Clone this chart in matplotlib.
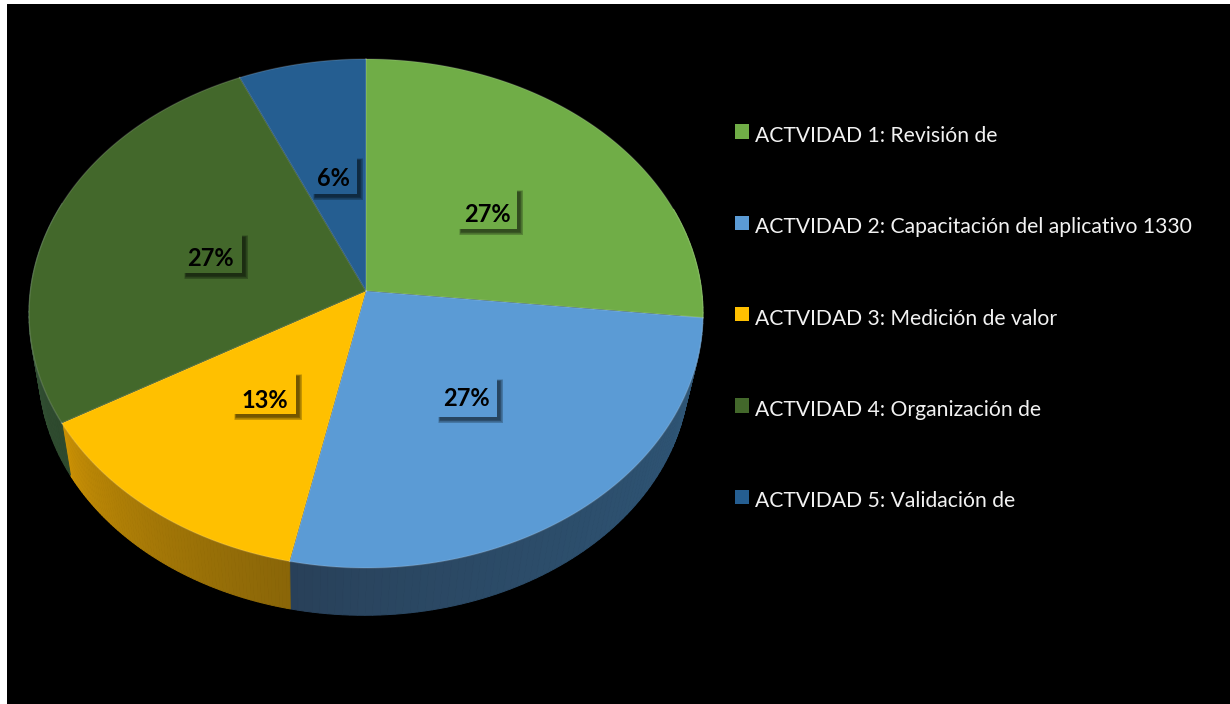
# -*- coding: utf-8 -*-

import matplotlib
matplotlib.use("Agg")
import matplotlib.pyplot as plt
from matplotlib.colors import to_rgb
from matplotlib.patches import Patch, Rectangle
import numpy as np

# --- data ---

activities = [
    "ACTVIDAD 1: Revisión de",
    "ACTVIDAD 2: Capacitación del aplicativo 1330",
    "ACTVIDAD 3: Medición de valor",
    "ACTVIDAD 4: Organización de",
    "ACTVIDAD 5: Validación de",
]
counts = [4, 4, 2, 4, 1]
pct_labels = ["27%", "27%", "13%", "27%", "6%"]
colors = ["#70AD47", "#5B9BD5", "#FFC000", "#43682B", "#255E91"]
side_left = ["#70AD47", "#283F57", "#CF9405", "#3F6048", "#255E91"]
side_right = ["#70AD47", "#2F5778", "#8A6608", "#2E4A2E", "#255E91"]
text_pos = [(487, 214), (466, 399), (265, 400), (210, 258), (333, 178)]
box_spans = [(458, 517, 189, 229), (437, 497, 378, 417), (233, 296, 373, 414),
             (183, 242, 234, 273), (312, 357, 157, 194)]

plt.rcParams["font.family"] = ["Lato", "DejaVu Sans"]

# --- pie in perspective ---

APEX = (366, 291)
B, A, K = 335.7, 252.5, 0.0884


def rim(theta):
    # theta runs clockwise from 12 o'clock, in radians
    x, y = np.sin(theta), np.cos(theta)
    w = 1 + K * y
    return APEX[0] + B * x / w, APEX[1] - A * y / w


def lower_rim(theta):
    x, y = rim(theta)
    return APEX[0] - 2 + 0.965 * (x - APEX[0]), APEX[1] + 0.965 * (y - APEX[1]) + 57


fig = plt.figure(figsize=(12.3, 7.04), dpi=100, facecolor="white")
ax = fig.add_axes([7 / 1230, 0, 1223 / 1230, 700 / 704])
ax.set_xlim(7, 1230)
ax.set_ylim(704, 4)
ax.axis("off")
ax.add_patch(Rectangle((7, 4), 1223, 700, color="black", zorder=0))

edges = np.cumsum([0] + counts) / sum(counts) * 2 * np.pi

# side wall, drawn in small strips so that it can darken along the rim
for i in range(len(counts)):
    t0, t1 = edges[i], edges[i + 1]
    ts = np.linspace(t0, t1, 80)
    c_left = np.array(to_rgb(side_left[i]))
    c_right = np.array(to_rgb(side_right[i]))
    for j in range(len(ts) - 1):
        a, b = ts[j], ts[j + 1]
        if np.cos(a) > 0.35:
            continue
        xt, yt = rim(np.array([a, b]))
        xb, yb = lower_rim(np.array([b, a]))
        # theta goes right to left along the front of the pie
        f = ((t1 - a) / (t1 - t0)) ** 0.7
        c = c_left * (1 - f) + c_right * f
        ax.fill(np.r_[xt, xb], np.r_[yt, yb], facecolor=c, edgecolor=c, lw=0.7, zorder=1)

# top face
for i in range(len(counts)):
    ts = np.linspace(edges[i], edges[i + 1], 150)
    xs, ys = rim(ts)
    ax.fill(np.r_[APEX[0], xs], np.r_[APEX[1], ys], color=colors[i], lw=0, zorder=2)
    ax.plot([APEX[0], xs[0]], [APEX[1], ys[0]], color="white", alpha=0.15, lw=1.1, zorder=2.5)
    ax.plot(xs, ys, color="white", alpha=0.14, lw=1.0, zorder=2.5)

# value labels on small boxes with a soft shadow to the lower right
for i in range(len(counts)):
    x0, x1, y0, y1 = box_spans[i]
    for grow in [5, 4, 3, 2, 1, 0]:
        ax.add_patch(Rectangle((x0 + 3 - grow / 3, y0 + 3 - grow / 3),
                               x1 - x0 + grow, y1 - y0 + grow,
                               facecolor="black", alpha=0.12, lw=0, zorder=3))
    ax.add_patch(Rectangle((x0, y0), x1 - x0, y1 - y0, facecolor=colors[i], lw=0, zorder=3.1))
    ax.text(text_pos[i][0], text_pos[i][1], pct_labels[i], ha="center", va="center",
            fontsize=17, fontweight="bold", color="black", zorder=4)

# legend
handles = [Patch(facecolor=c, lw=0) for c in colors]
leg = ax.legend(handles, activities, loc="upper left", bbox_to_anchor=(735 / 1230, 1 - 126 / 704),
                bbox_transform=fig.transFigure, frameon=False, fontsize=15.2, labelcolor="#F2F2F2",
                handlelength=0.66, handleheight=0.66, handletextpad=0.28, labelspacing=3.38,
                borderpad=0, borderaxespad=0)
for h in leg.get_patches():
    h.set_y(h.get_y() + 2.2)

fig.savefig("out.png", dpi=100, facecolor="white")
